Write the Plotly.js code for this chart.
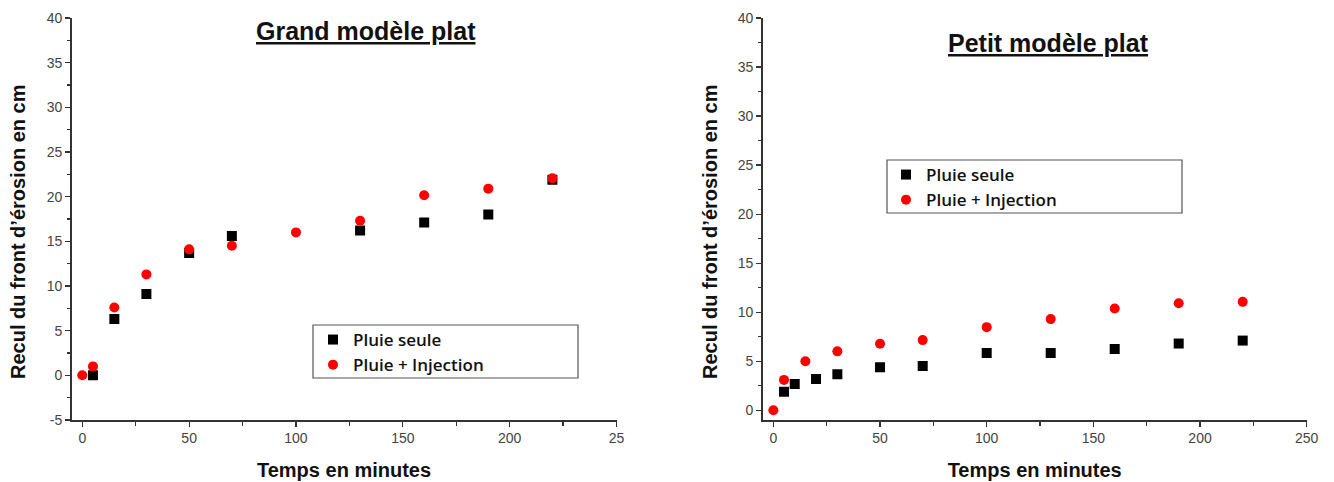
<!DOCTYPE html>
<html>
<head>
<meta charset="utf-8">
<script src="https://cdn.plot.ly/plotly-3.0.1.min.js"></script>
<style>html,body{margin:0;padding:0;background:#fff;}#chart{width:1334px;height:482px;}</style>
</head>
<body>
<div id="chart"></div>
<script>
// ---- Data ----
const seriesNames = ["Pluie seule", "Pluie + Injection"];
const chartTitles = ["Grand modèle plat", "Petit modèle plat"];
const xTitle = "Temps en minutes";
const yTitle = "Recul du front d’érosion en cm";

// Grand modèle plat
const grandTimeSeule = [5, 15, 30, 50, 70, 130, 160, 190, 220];
const grandSeule = [0, 6.3, 9.1, 13.7, 15.6, 16.2, 17.1, 18.0, 21.9];
const grandTimeInj = [0, 5, 15, 30, 50, 70, 100, 130, 160, 190, 220];
const grandInj = [0, 1.0, 7.6, 11.3, 14.1, 14.5, 16.0, 17.3, 20.15, 20.9, 22.05];

// Petit modèle plat
const petitTimeSeule = [5, 10, 20, 30, 50, 70, 100, 130, 160, 190, 220];
const petitSeule = [1.87, 2.68, 3.19, 3.66, 4.37, 4.51, 5.83, 5.83, 6.24, 6.8, 7.1];
const petitTimeInj = [0, 5, 15, 30, 50, 70, 100, 130, 160, 190, 220];
const petitInj = [0, 3.09, 5.0, 6.0, 6.78, 7.15, 8.47, 9.29, 10.38, 10.9, 11.05];

// Tick labels
const xTickVals = [0, 50, 100, 150, 200, 250];
const xTickTextGrand = ["0", "50", "100", "150", "200", "25"];
const xTickTextPetit = ["0", "50", "100", "150", "200", "250"];
const yTickValsGrand = [-5, 0, 5, 10, 15, 20, 25, 30, 35, 40];
const yTickTextGrand = ["-5", "0", "5", "10", "15", "20", "25", "30", "35", "40"];
const yTickValsPetit = [0, 5, 10, 15, 20, 25, 30, 35, 40];
const yTickTextPetit = ["0", "5", "10", "15", "20", "25", "30", "35", "40"];

// ---- Styles ----
const W = 1334, H = 482;
const axisColor = "#333";
const tickFont = {family: "Liberation Sans, Arial, sans-serif", size: 14, color: "#444"};
const axTitleFont = {family: "Liberation Sans, Arial, sans-serif", size: 20, color: "#111", weight: 700};
const legFont = {family: "Open Sans, sans-serif", size: 17, color: "#111", weight: 600};

function xa(domain, ticktext) {
  return {
    domain: domain, range: [-5, 250], showgrid: false, zeroline: false,
    showline: true, linecolor: axisColor, linewidth: 1.5, mirror: false,
    ticks: "outside", ticklen: 5, tickwidth: 1.2, tickcolor: axisColor,
    tickvals: xTickVals, ticktext: ticktext, tickfont: tickFont,
    minor: {ticks: "outside", dtick: 25, tick0: 0, ticklen: 4, tickwidth: 1.2, tickcolor: axisColor, showgrid: false},
    title: {text: "<b>" + xTitle + "</b>", font: axTitleFont, standoff: 17},
    automargin: false, fixedrange: true
  };
}
function ya(domain, range, anchor, tv, tt) {
  return {
    domain: domain, range: range, anchor: anchor, showgrid: false, zeroline: false,
    showline: true, linecolor: axisColor, linewidth: 1.5,
    ticks: "outside", ticklen: 5, tickwidth: 1.2, tickcolor: axisColor,
    tickvals: tv, ticktext: tt, tickfont: tickFont,
    minor: {ticks: "outside", dtick: 2.5, tick0: 0, ticklen: 3, tickwidth: 1.2, tickcolor: axisColor, showgrid: false},
    automargin: false, fixedrange: true
  };
}

const sqMarker = {symbol: "square", size: 10, color: "#000"};
const ciMarker = {symbol: "circle", size: 10, color: "#ff0000"};

const data = [
  {x: grandTimeSeule, y: grandSeule, xaxis: "x", yaxis: "y", mode: "markers", name: seriesNames[0], marker: sqMarker, legend: "legend"},
  {x: grandTimeInj, y: grandInj, xaxis: "x", yaxis: "y", mode: "markers", name: seriesNames[1], marker: ciMarker, legend: "legend"},
  {x: petitTimeSeule, y: petitSeule, xaxis: "x2", yaxis: "y2", mode: "markers", name: seriesNames[0], marker: sqMarker, legend: "legend2"},
  {x: petitTimeInj, y: petitInj, xaxis: "x2", yaxis: "y2", mode: "markers", name: seriesNames[1], marker: ciMarker, legend: "legend2"}
];

const yDom = [1 - 420 / H, 1 - 18 / H];
const leftDom = [71.6 / W, 616.5 / W];
const rightDom = [762.7 / W, 1306.7 / W];

const legBase = {font: legFont, bgcolor: "rgba(0,0,0,0)", borderwidth: 0, xanchor: "left", yanchor: "top", tracegroupgap: 0, traceorder: "normal"};

const titleFont = {family: "Liberation Sans, Arial, sans-serif", size: 25, color: "#111", lineposition: "under"};
const yTitleFont = {family: "Liberation Sans, Arial, sans-serif", size: 20, color: "#111"};

const layout = {
  width: W, height: H,
  margin: {l: 0, r: 0, t: 0, b: 0},
  paper_bgcolor: "#fff", plot_bgcolor: "#fff",
  showlegend: true,
  xaxis: {...xa(leftDom, xTickTextGrand), anchor: "y"},
  yaxis: ya(yDom, [-5, 40], "x", yTickValsGrand, yTickTextGrand),
  xaxis2: {...xa(rightDom, xTickTextPetit), anchor: "y2"},
  yaxis2: ya(yDom, [-1, 40], "x2", yTickValsPetit, yTickTextPetit),
  legend: {...legBase, x: 313 / W, y: 1 - 322 / H},
  legend2: {...legBase, x: 886 / W, y: 1 - 157 / H},
  annotations: [
    {text: "<b>" + chartTitles[0] + "</b>", xref: "paper", yref: "paper", x: 366 / W, y: 1 - 31 / H, xanchor: "center", yanchor: "middle", showarrow: false, font: titleFont},
    {text: "<b>" + chartTitles[1] + "</b>", xref: "paper", yref: "paper", x: 1048 / W, y: 1 - 43 / H, xanchor: "center", yanchor: "middle", showarrow: false, font: titleFont},
    {text: "<b>" + yTitle + "</b>", xref: "paper", yref: "paper", x: 18 / W, y: 1 - 232 / H, xanchor: "center", yanchor: "middle", textangle: -90, showarrow: false, font: yTitleFont},
    {text: "<b>" + yTitle + "</b>", xref: "paper", yref: "paper", x: 710 / W, y: 1 - 232 / H, xanchor: "center", yanchor: "middle", textangle: -90, showarrow: false, font: yTitleFont}
  ],
  shapes: [
    {type: "rect", xref: "paper", yref: "paper", x0: 313 / W, x1: 578 / W, y0: 1 - 378 / H, y1: 1 - 325 / H, line: {color: "#555", width: 1.2}},
    {type: "rect", xref: "paper", yref: "paper", x0: 887 / W, x1: 1182 / W, y0: 1 - 213 / H, y1: 1 - 160 / H, line: {color: "#555", width: 1.2}}
  ]
};

Plotly.newPlot("chart", data, layout, {staticPlot: true, displayModeBar: false});
</script>
</body>
</html>
